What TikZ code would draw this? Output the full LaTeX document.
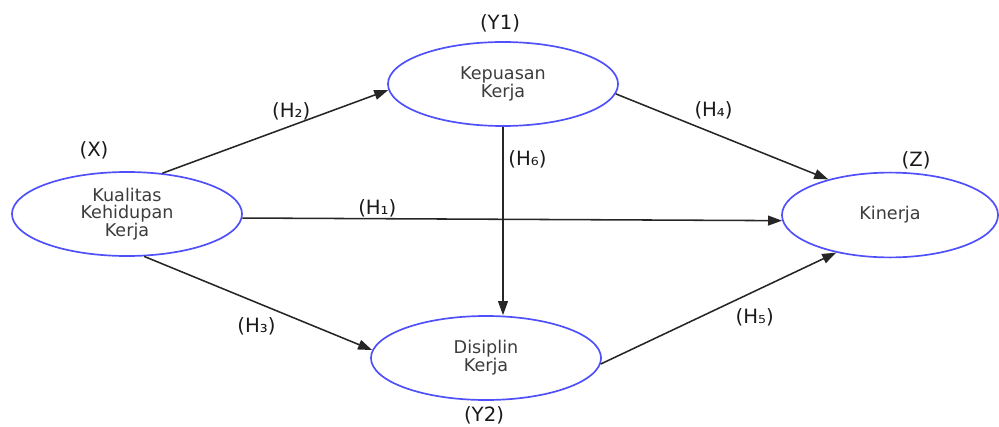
\documentclass[tikz,border=0pt]{standalone}
\usepackage{fontspec}
\setmainfont{DejaVu Sans}
\usetikzlibrary{arrows.meta,shapes.geometric}
\definecolor{varblue}{RGB}{80,80,250}
\definecolor{txtgray}{RGB}{60,60,60}

\begin{document}
\begin{tikzpicture}[x=0.025cm,y=-0.025cm,
    var/.style={ellipse,draw=varblue,line width=1.2pt,minimum width=5.75cm,minimum height=2.1cm,
      inner sep=0pt,align=center,text=txtgray,font=\fontsize{12.5}{12.6}\selectfont},
    tag/.style={text=black!90,font=\fontsize{14}{15}\selectfont},
    conn/.style={-{Triangle[length=10pt,width=7pt]},line width=1.1pt,draw=black!85}]
  \useasboundingbox (0,0) rectangle (999,427);

  \node[var] (x) at (127,214) {Kualitas\\Kehidupan\\Kerja};
  \node[var] (y1) at (503,84) {Kepuasan\\Kerja};
  \node[var] (y2) at (486,358) {Disiplin\\Kerja};
  \node[var,minimum width=5.4cm,minimum height=2.12cm] (z) at (890,215) {Kinerja};

  \node[tag] (tx) at (94,150) {(X)};
  \node[tag] (ty1) at (500,23) {(Y1)};
  \node[tag] (ty2) at (484,415) {(Y2)};
  \node[tag] (tz) at (916,160) {(Z)};

  \path[every edge/.append style={conn}]
  (x.49) edge node[tag,pos=.57,above] (h2) {(H₂)} (y1.183)
  (x.-2) edge node[tag,pos=.25,above=-3pt] (h1) {(H₁)} (z.183)
  (x.-68) edge node[tag,pos=.6,below left] (h3) {(H₃)} (y2.176)
  (y1.south) edge node[tag,pos=.17,right] (h6) {(H₆)} (y1.south |- y2.north)
  (y1.-5) edge node[tag,pos=.46,above=6pt] (h4) {(H₄)} (z.150)
  (y2.-3) edge node[tag,pos=.55,below right] (h5) {(H₅)} (z.215)
  ;
\end{tikzpicture}
\end{document}
